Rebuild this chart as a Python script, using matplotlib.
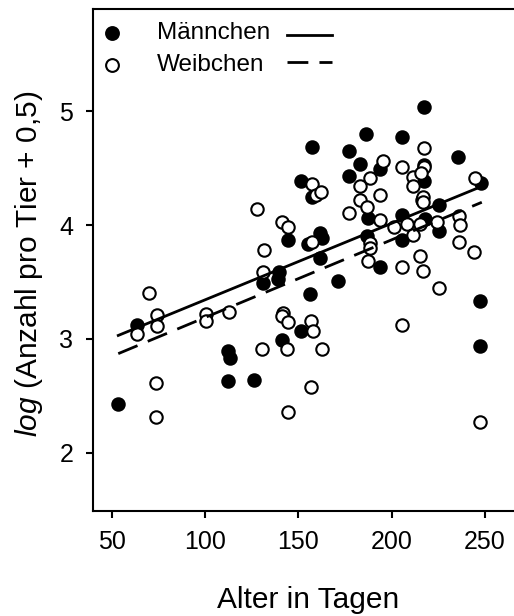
import matplotlib
matplotlib.use("Agg")
import matplotlib.pyplot as plt

plt.rcParams["font.family"] = ["Liberation Sans", "DejaVu Sans"]
plt.rcParams["mathtext.fontset"] = "custom"
plt.rcParams["mathtext.it"] = "Liberation Sans:italic"
plt.rcParams["mathtext.rm"] = "Liberation Sans"

# Männchen (gefüllt)
m_alter = [53.3, 63.4, 112.5, 113.4, 112.5, 126.3, 131.2, 139.8, 139.3, 141.3,
           144.3, 151.5, 151.5, 157.2, 157.5, 155.2, 156.5, 161.8, 162.5, 161.5,
           171.4, 177.3, 177.3, 183.3, 186.5, 187.5, 186.7, 193.5, 193.5, 205.4,
           205.4, 205.4, 217.4, 217.4, 217.2, 216.5, 217.9, 225.6, 225.6, 235.5,
           247.8, 247.4, 247.4]
m_wert = [2.43, 3.12, 2.89, 2.83, 2.63, 2.64, 3.49, 3.59, 3.53, 2.99,
          3.87, 4.39, 3.07, 4.69, 4.25, 3.83, 3.39, 3.93, 3.89, 3.71,
          3.51, 4.65, 4.43, 4.54, 4.80, 4.06, 3.90, 4.49, 3.63, 4.77,
          4.09, 3.87, 5.04, 4.53, 4.39, 4.22, 4.05, 4.18, 3.95, 4.60,
          4.37, 3.33, 2.94]

# Weibchen (offen)
w_alter = [70.2, 63.4, 74.1, 74.1, 73.5, 73.5, 100.3, 100.3, 113.0, 128.0,
           131.4, 131.2, 130.4, 141.1, 144.6, 142.0, 141.1, 144.6, 144.0, 144.6,
           157.2, 159.5, 162.0, 157.5, 156.8, 157.7, 162.5, 156.8, 177.3, 183.3,
           183.0, 188.4, 186.7, 195.5, 193.5, 193.5, 188.4, 188.4, 187.5, 201.3,
           205.4, 205.4, 205.4, 208.4, 211.6, 211.6, 211.6, 217.4, 217.4, 215.6,
           217.0, 216.6, 215.4, 215.4, 216.6, 224.5, 225.6, 236.3, 236.7, 236.3,
           244.3, 244.6, 247.4]
w_wert = [3.40, 3.04, 3.21, 3.11, 2.61, 2.31, 3.22, 3.155, 3.24, 4.14,
          3.78, 3.59, 2.91, 4.03, 3.98, 3.23, 3.20, 3.15, 2.91, 2.36,
          4.36, 4.26, 4.29, 3.85, 3.16, 3.07, 2.91, 2.58, 4.11, 4.34,
          4.22, 4.41, 4.16, 4.56, 4.26, 4.04, 3.84, 3.80, 3.68, 3.98,
          4.51, 3.63, 3.12, 4.01, 3.91, 4.42, 4.34, 4.68, 4.51, 4.46,
          4.25, 4.20, 4.01, 3.73, 3.60, 4.03, 3.45, 4.08, 4.00, 3.85,
          3.76, 4.41, 2.27]

# Regressionsgeraden (Endpunkte)
fit_alter = [53.5, 248.3]
fit_m = [3.03, 4.34]
fit_w = [2.87, 4.20]

fig = plt.figure(figsize=(5.14, 6.16), dpi=100)
ax = fig.add_axes([0.18035, 0.17094, 0.8249, 0.81477])

ax.scatter(m_alter, m_wert, s=80, c="black", edgecolors="black", linewidths=1.5, zorder=2)
ax.scatter(w_alter, w_wert, s=80, c="white", edgecolors="black", linewidths=1.5, zorder=3)
ax.plot(fit_alter, fit_m, color="black", lw=2, zorder=4)
ax.plot(fit_alter, fit_w, color="black", lw=2, dashes=(7.5, 4), zorder=4)

# Legende
ax.plot([0.0455], [0.9518], "o", ms=9.2, mfc="black", mec="black", mew=1.5,
        transform=ax.transAxes, clip_on=False)
ax.plot([0.0455], [0.888], "o", ms=9.2, mfc="white", mec="black", mew=1.5,
        transform=ax.transAxes, clip_on=False)
ax.text(0.1514, 0.9518, "Männchen", fontsize=17.5, va="center", transform=ax.transAxes)
ax.text(0.1514, 0.888, "Weibchen", fontsize=17.5, va="center", transform=ax.transAxes)
ax.plot([0.4585, 0.5646], [0.9478, 0.9478], color="black", lw=2, transform=ax.transAxes)
ax.plot([0.4585, 0.5646], [0.8945, 0.8945], color="black", lw=2, dashes=(7.5, 4),
        transform=ax.transAxes)

ax.set_xlim(39.8, 267)
ax.set_ylim(1.49, 5.90)
ax.set_xticks([50, 100, 150, 200, 250])
ax.set_yticks([2, 3, 4, 5])
ax.tick_params(direction="out", length=5, width=1.5, pad=9, labelsize=18)
for s in ax.spines.values():
    s.set_linewidth(1.5)

fig.text(0.5987, 0.026, "Alter in Tagen", fontsize=21.5, ha="center", va="center")
fig.text(0.0564, 0.5722, r"$\mathit{log}$ (Anzahl pro Tier + 0,5)", fontsize=21.5,
         rotation=90, ha="center", va="center")

fig.savefig("out.png", dpi=100)
